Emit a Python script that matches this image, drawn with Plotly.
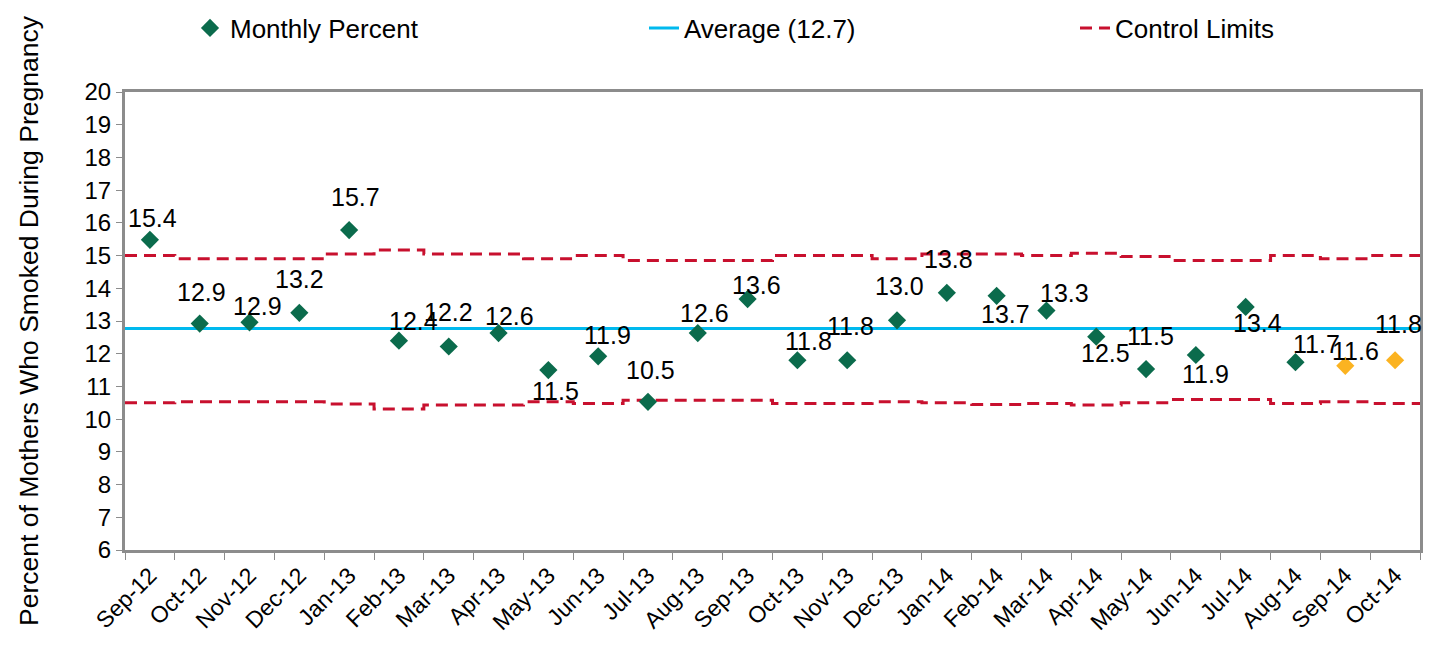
import math
import numpy as np
import plotly.graph_objects as go

months = ["Sep-12", "Oct-12", "Nov-12", "Dec-12", "Jan-13", "Feb-13", "Mar-13", "Apr-13",
          "May-13", "Jun-13", "Jul-13", "Aug-13", "Sep-13", "Oct-13", "Nov-13", "Dec-13",
          "Jan-14", "Feb-14", "Mar-14", "Apr-14", "May-14", "Jun-14", "Jul-14", "Aug-14",
          "Sep-14", "Oct-14"]
monthly_percent = [15.48, 12.92, 12.96, 13.25, 15.78, 12.4, 12.22, 12.63, 11.5, 11.92, 10.53,
                   12.63, 13.67, 11.8, 11.8, 13.02, 13.86, 13.77, 13.32, 12.52, 11.53, 11.96,
                   13.43, 11.74, 11.63, 11.8]
average_value = 12.77
upper_limit = [15.0, 14.9, 14.9, 14.9, 15.05, 15.17, 15.05, 15.05, 14.9, 15.0, 14.85, 14.85,
               14.85, 15.0, 15.0, 14.9, 15.05, 15.05, 15.0, 15.07, 14.97, 14.85, 14.85, 15.0,
               14.9, 15.0]
lower_limit = [10.5, 10.53, 10.53, 10.53, 10.46, 10.31, 10.43, 10.43, 10.53, 10.48, 10.58,
               10.58, 10.58, 10.48, 10.48, 10.53, 10.5, 10.45, 10.48, 10.43, 10.5, 10.6, 10.6,
               10.48, 10.53, 10.48]
preliminary = [False] * 24 + [True, True]
# label offsets in pixels (dx right, dy down) relative to each marker
label_dx = [3, 2, 8, 0, 6, 15, 0, 11, 7, 9, 3, 7, 9, 11, 3, 2, 2, 9, 18, 9, 4, 10, 12, 21, 10, 3]
label_dy = [-22, -32, -16, -34, -33, -20, -35, -17, 21, -21, -32, -20, -14, -19, -34, -34, -34,
            18, -18, 16, -33, 19, 16, -18, -15, -36]


def trunc1(v):
    return f"{math.floor(v * 10 + 1e-9) / 10:.1f}"


GREEN = "#0B6B4C"
ORANGE = "#FBB321"
RED = "#C8102E"
BLUE = "#00B9EE"
GRAY = "#8C8C8C"
FONT = "Liberation Sans, Arial, sans-serif"

n = len(months)
x = np.arange(n)
x_range = [-0.5, n - 0.5]
edges = np.append(x - 0.5, n - 0.5)

fig = go.Figure()

fig.add_trace(go.Scatter(
    x=[x[0]], y=[None], mode="markers", name="Monthly Percent", legend="legend",
    marker=dict(symbol="diamond", size=14, color=GREEN), showlegend=True))

fig.add_trace(go.Scatter(
    x=x_range, y=[average_value, average_value], mode="lines",
    name=f"Average ({trunc1(average_value)})", legend="legend2",
    line=dict(color=BLUE, width=3)))

fig.add_trace(go.Scatter(
    x=edges, y=upper_limit + [upper_limit[-1]], mode="lines", name="Control Limits",
    legend="legend3",
    line=dict(color=RED, width=3, dash="12px,7px", shape="hv")))
fig.add_trace(go.Scatter(
    x=edges, y=lower_limit + [lower_limit[-1]], mode="lines", name="Control Limits",
    legend="legend3",
    line=dict(color=RED, width=3, dash="12px,7px", shape="hv"), showlegend=False))

colors = [ORANGE if p else GREEN for p in preliminary]
fig.add_trace(go.Scatter(
    x=x, y=monthly_percent, mode="markers", showlegend=False,
    marker=dict(symbol="diamond", size=14, color=colors)))

for xi, v, dx, dy in zip(x, monthly_percent, label_dx, label_dy):
    fig.add_annotation(x=xi, y=v, text=trunc1(v), showarrow=False,
                       xshift=dx, yshift=-dy,
                       font=dict(size=25, color="black", family=FONT))

leg_common = dict(orientation="h", xref="container", yref="container",
                  yanchor="middle", xanchor="left", y=1 - 20 / 650,
                  font=dict(size=26, family=FONT, color="black"),
                  bgcolor="rgba(0,0,0,0)")

fig.update_layout(
    width=1435, height=650,
    margin=dict(l=117, r=23, t=84, b=108, autoexpand=False),
    plot_bgcolor="white", paper_bgcolor="white",
    font=dict(family=FONT, size=24, color="black"),
    legend=dict(x=182 / 1435, **leg_common),
    legend2=dict(x=636 / 1435, **leg_common),
    legend3=dict(x=1067 / 1435, **leg_common),
)
fig.update_xaxes(
    range=x_range, tickmode="array", tickvals=x, ticktext=months, tickangle=-45,
    ticks="", showgrid=False, zeroline=False, automargin=False,
    showline=True, linecolor=GRAY, linewidth=3, mirror=True,
    minor=dict(ticks="outside", tick0=0.5, dtick=1, ticklen=7, tickcolor=GRAY, tickwidth=1),
    tickfont=dict(size=23, family=FONT))
fig.update_yaxes(
    range=[6, 20], dtick=1, tick0=6, ticks="outside", ticklen=6, tickcolor=GRAY,
    showgrid=False, zeroline=False, automargin=False,
    showline=True, linecolor=GRAY, linewidth=3, mirror=True,
    tickfont=dict(size=24, family=FONT),
    title=dict(text="Percent of Mothers Who Smoked During Pregnancy", standoff=39,
               font=dict(size=26.5, family=FONT)))

fig.write_html("out.html")
